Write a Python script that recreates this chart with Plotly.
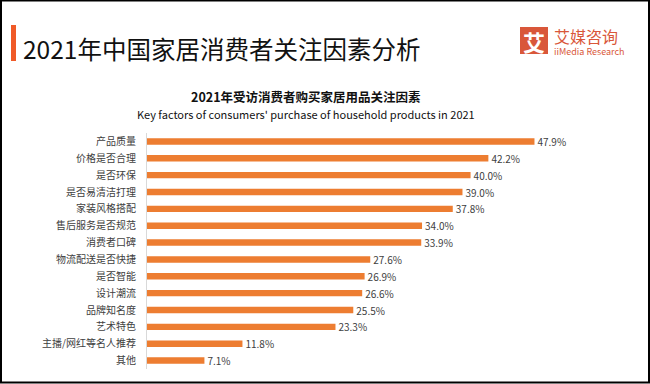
import plotly.graph_objects as go

categories = ["产品质量", "价格是否合理", "是否环保", "是否易清洁打理", "家装风格搭配",
              "售后服务是否规范", "消费者口碑", "物流配送是否快捷", "是否智能", "设计潮流",
              "品牌知名度", "艺术特色", "主播/网红等名人推荐", "其他"]
values = [47.9, 42.2, 40.0, 39.0, 37.8, 34.0, 33.9, 27.6, 26.9, 26.6, 25.5, 23.3, 11.8, 7.1]
labels = [f"{v:.1f}%" for v in values]

W, H = 650, 384
ML, MR, MT, MB = 147, 50, 133, 15
PW, PH = W - ML - MR, H - MT - MB

def px(x):
    return (x - ML) / PW

def py(y):
    return (H - MB - y) / PH

CJK = "Noto Sans CJK SC"
ORANGE = "#ED7D31"

fig = go.Figure(go.Bar(
    x=values, y=categories, orientation="h",
    marker=dict(color=ORANGE, line=dict(width=0)),
    text=labels, textposition="outside", cliponaxis=False,
    constraintext="none",
    textfont=dict(family=CJK, size=10, color="#404040"),
    width=0.38,
))

fig.update_layout(
    width=W, height=H,
    margin=dict(l=ML, r=MR, t=MT, b=MB, pad=0),
    paper_bgcolor="white", plot_bgcolor="white",
    showlegend=False,
    font=dict(family=CJK),
    xaxis=dict(range=[0, 56], visible=False, fixedrange=True),
    yaxis=dict(autorange=False, range=[13.5, -0.5], showgrid=False,
               showline=True, linecolor="#D9D9D9", linewidth=1,
               ticks="", ticklabelstandoff=8, fixedrange=True,
               tickfont=dict(family=CJK, size=10, color="#404040")),
    shapes=[
        dict(type="rect", xref="paper", yref="paper",
             x0=px(1), x1=px(649), y0=py(382.5), y1=py(0.5),
             line=dict(color="black", width=2), fillcolor="rgba(0,0,0,0)"),
        dict(type="rect", xref="paper", yref="paper",
             x0=px(11), x1=px(16), y0=py(61), y1=py(25),
             line=dict(width=0), fillcolor="#F05A28"),
        dict(type="rect", xref="paper", yref="paper",
             x0=px(520), x1=px(548), y0=py(54), y1=py(27),
             line=dict(width=0), fillcolor="#D9573A"),
    ],
    annotations=[
        dict(text="2021年中国家居消费者关注因素分析", xref="paper", yref="paper",
             x=px(21), y=py(48), xanchor="left", yanchor="middle", showarrow=False,
             font=dict(family=CJK, size=24.5, color="#111111")),
        dict(text="<b>艾</b>", xref="paper", yref="paper",
             x=px(534), y=py(40.5), xanchor="center", yanchor="middle", showarrow=False,
             font=dict(family=CJK, size=22, color="white")),
        dict(text="<span style='font-size:16px'>艾媒咨询</span><br>iiMedia Research",
             xref="paper", yref="paper", align="left",
             x=px(552), y=py(41), xanchor="left", yanchor="middle", showarrow=False,
             font=dict(family=CJK, size=9, color="#D9573A")),
        dict(text="<b>2021年受访消费者购买家居用品关注因素</b>", xref="paper", yref="paper",
             x=px(306), y=py(96), xanchor="center", yanchor="middle", showarrow=False,
             font=dict(family=CJK, size=12.5, color="#111111")),
        dict(text="Key factors of consumers' purchase of household products in 2021",
             xref="paper", yref="paper",
             x=px(306), y=py(114), xanchor="center", yanchor="middle", showarrow=False,
             font=dict(family=CJK, size=11, color="#111111")),
    ],
)

fig.write_html("out.html", config={"displayModeBar": False},
               post_script="document.body.style.margin='0';document.body.style.padding='0';")
